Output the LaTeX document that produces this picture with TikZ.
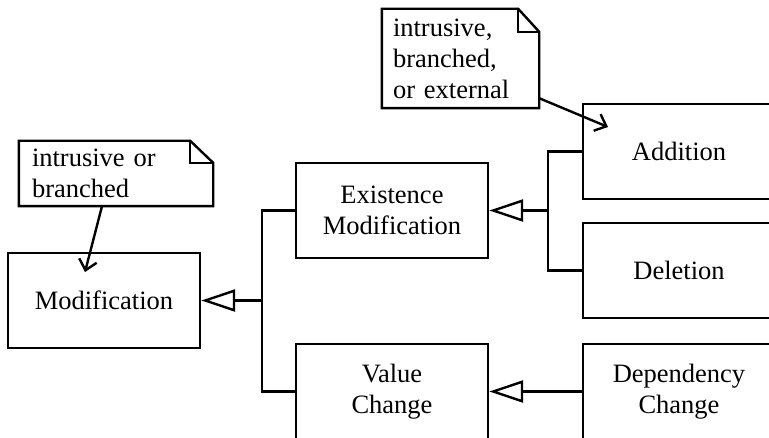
\documentclass[tikz,border=0pt]{standalone}
\usepackage{fontspec}
\setmainfont{Liberation Serif}
\usetikzlibrary{arrows.meta}
\begin{document}
\begin{tikzpicture}[x=1pt,y=-1pt,line width=2.4pt,line join=miter,
  txt/.style={font=\fontsize{26.5}{31}\selectfont},
  box/.style={txt,draw,rectangle,minimum width=192pt,minimum height=95pt,inner sep=0pt,align=center},
  notebox/.style={txt,rectangle,inner ysep=0pt,align=left},
  gen/.style={-{Triangle[open,length=34pt,width=22pt]}},
  dep/.style={-{Straight Barb[length=10pt,width=18pt]}}]
\useasboundingbox (0,0) rectangle (769,438);
% classes
\node[box] (mod) at (104,300.5) {Modification};
\node[box] (exist) at (392,210.5) {Existence\\Modification};
\node[box] (value) at (392,391.5) {Value\\Change};
\node[box] (add) at (679,151.5) {Addition};
\node[box] (del) at (679,270.5) {Deletion};
\node[box] (depc) at (679,391.5) {Dependency\\Change};
% notes
\node[notebox,minimum width=192pt,minimum height=63pt,text width=168pt,inner xsep=12pt] (n1) at (116,173.5) {intrusive or\\branched};
\node[notebox,minimum width=155pt,minimum height=97pt,text width=135pt,inner xsep=10pt] (n2) at (460.5,58.5) {intrusive,\\branched,\\or external};
\draw (n1.north west) -- ([xshift=-23pt]n1.north east) -- ([yshift=-22pt]n1.north east) -- (n1.south east) -- (n1.south west) -- cycle;
\draw ([xshift=-23pt]n1.north east) -- ([xshift=-23pt,yshift=-22pt]n1.north east) -- ([yshift=-22pt]n1.north east);
\draw (n2.north west) -- ([xshift=-21pt]n2.north east) -- ([yshift=-23pt]n2.north east) -- (n2.south east) -- (n2.south west) -- cycle;
\draw ([xshift=-21pt]n2.north east) -- ([xshift=-21pt,yshift=-23pt]n2.north east) -- ([yshift=-23pt]n2.north east);
% junctions
\coordinate (j1) at (262,300.5);
\coordinate (j2) at (548,210.5);
\coordinate (t1) at (85,272);
\coordinate (t2) at (608,127);
% generalizations
\draw (exist.west) -| (j1) |- (value.west);
\draw[gen] (j1) -- (mod.east);
\draw (add.west) -| (j2) |- (del.west);
\draw[gen] (j2) -- (exist.east);
\draw[gen] (depc.west) -- (value.east);
% note links
\draw[dep] ([xshift=-14pt]n1.south) -- (t1);
\draw[dep] ([yshift=10pt]n2.south east) -- (t2);
\end{tikzpicture}
\end{document}
